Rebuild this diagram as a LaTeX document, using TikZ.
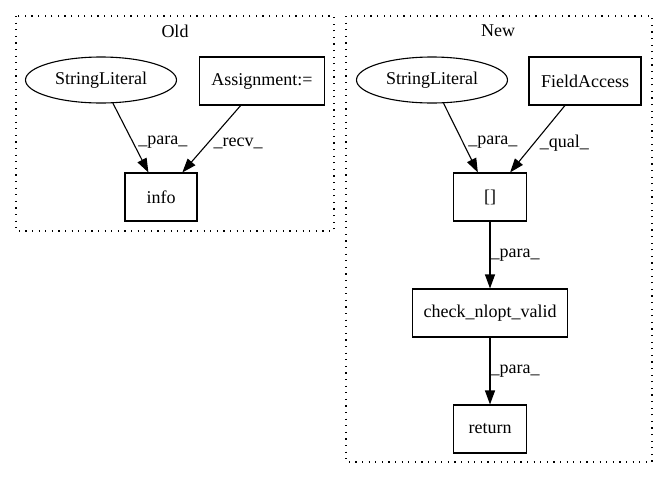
\documentclass[tikz,border=0pt]{standalone}
\usepackage{fontspec}
\setmainfont{Liberation Serif}
\usetikzlibrary{shapes.geometric,arrows.meta}
\tikzset{
    every node/.style={inner sep=0mm, font=\fontsize{18}{21}\selectfont}
}
\tikzset{box/.style={rectangle, draw, minimum height=48pt}}
\tikzset{oval/.style={ellipse, draw, minimum width=151pt, minimum height=46pt}}
\tikzset{cluster/.style={draw, dash pattern=on 1.2pt off 5.4pt}}
\tikzset{flow/.style={-{Triangle[length=14pt,width=10pt]}}}
\tikzset{elabel/.style={right, inner sep=5pt}}

\begin{document}
\begin{tikzpicture}[x=1pt, y=-1pt, line width=1.1pt]
    \useasboundingbox (0,0) rectangle (668,480);

    % old version
    \draw[cluster] (16,16) rectangle (334,231);
    \node (old) at (175,31) {Old};
    \node (sl) at (101,80) [oval] {StringLiteral};
    \node (asg) at (262,81) [box, minimum width=125pt] {Assignment:=};
    \node (info) at (161,197) [box, minimum width=72pt] {info};

    \draw (sl) edge[flow] node[elabel, pos=0.56] {\_para\_} (info);
    \draw (asg) edge[flow] node[elabel, pos=0.56] {\_recv\_} (info);

    % new version
    \draw[cluster] (346,16) rectangle (652,462);
    \node (new) at (498,31) {New};
    \node (slb) at (432,80) [oval] {StringLiteral};
    \node (fa) at (585,81) [box, minimum width=112pt] {FieldAccess};
    \node (idx) at (490,197) [box, minimum width=73pt] {[]};
    \node (chk) at (490,313) [box, minimum width=155pt] {check\_nlopt\_valid};
    \node (ret) at (490,429) [box, minimum width=73pt] {return};

    \draw (slb) edge[flow] node[elabel, pos=0.56] {\_para\_} (idx);
    \draw (fa) edge[flow] node[elabel, pos=0.56] {\_qual\_} (idx);
    \draw (idx) edge[flow] node[elabel, inner sep=0pt] {\_para\_} (chk);
    \draw (chk) edge[flow] node[elabel, inner sep=0pt] {\_para\_} (ret);
\end{tikzpicture}
\end{document}
